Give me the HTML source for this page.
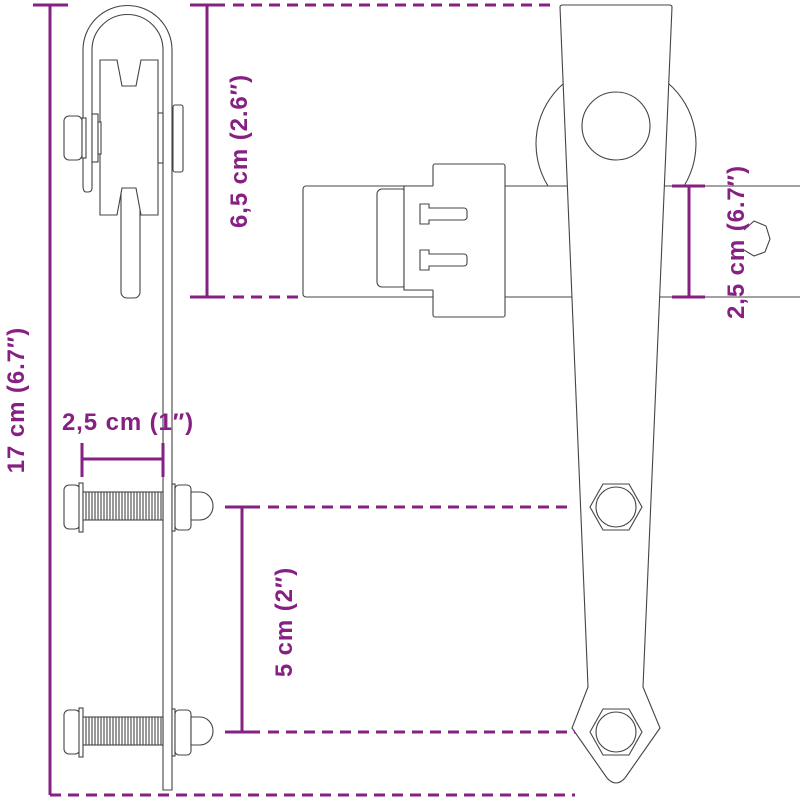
<!DOCTYPE html>
<html><head><meta charset="utf-8"><style>
html,body{margin:0;padding:0;background:#fff;width:800px;height:800px;overflow:hidden}
svg{display:block}
.l{fill:#fff;stroke:#444;stroke-width:1.1}
.n{fill:none;stroke:#444;stroke-width:1.1}
.p{stroke:#862082;stroke-width:3;fill:none}
.d{stroke:#862082;stroke-width:3;fill:none;stroke-dasharray:11 7}
.t{fill:#862082;font-family:"Liberation Sans",sans-serif;font-weight:bold;font-size:24px;letter-spacing:0.9px}
</style></head><body>
<svg width="800" height="800" viewBox="0 0 800 800" xmlns="http://www.w3.org/2000/svg">
<!-- left side view -->
<path class="l" d="M83,185 V50 A44.5,44.5 0 0 1 172,50 V790 H163 V50 A35.5,35.5 0 0 0 92,50 V188 Q92,192 88,192 H86 Q83,192 83,185 Z"/>
<rect class="l" x="121" y="185" width="19" height="113" rx="6"/>
<path class="l" d="M100,60 H117 L122,86 H136 L141,60 H158 V215 H141 L136,188 H122 L117,215 H100 Z"/>
<rect class="l" x="64" y="116" width="18" height="44" rx="5"/>
<rect class="l" x="82" y="118" width="4" height="40"/>
<rect class="l" x="92" y="114" width="6" height="48"/>
<rect class="l" x="98" y="122" width="3" height="32"/>
<rect class="l" x="158" y="113" width="5" height="50"/>
<rect class="l" x="173" y="105" width="10" height="67" rx="2"/>
<g id="b1">
<rect class="l" x="64" y="485" width="16" height="44" rx="5"/>
<rect class="l" x="79" y="483" width="4" height="49"/>
<rect class="l" x="83" y="492" width="80" height="28"/>
<path class="n" d="M86,492 V520 M89,492 V520 M92,492 V520 M95,492 V520 M98,492 V520 M101,492 V520 M104,492 V520 M107,492 V520 M110,492 V520 M113,492 V520 M116,492 V520 M119,492 V520 M122,492 V520 M125,492 V520 M128,492 V520 M131,492 V520 M134,492 V520 M137,492 V520 M140,492 V520 M143,492 V520 M146,492 V520 M149,492 V520 M152,492 V520 M155,492 V520 M158,492 V520 M161,492 V520"/>
<rect class="l" x="172" y="484" width="3" height="47"/>
<rect class="l" x="175" y="485" width="16" height="45" rx="4"/>
<path class="l" d="M191,492 H200 A13,14 0 0 1 200,520 H191 Z"/>
</g>
<use href="#b1" transform="translate(0,225)"/>

<!-- right view -->
<path class="l" d="M548,186 A80,80 0 1 1 684,186 Z"/>
<rect class="l" x="303" y="186" width="500" height="111" rx="3"/>
<rect class="l" x="377" y="189" width="30" height="98" rx="5"/>
<rect class="l" x="404" y="186" width="40" height="104"/>
<rect class="l" x="433" y="164" width="72" height="153" rx="2"/>
<rect x="404" y="186" width="30" height="104" style="stroke:none;fill:#fff"/>
<path class="n" d="M404,186 V290 M404,186 H433 M404,290 H433 M505,186 H548 M505,297 H560"/>
<path class="l" d="M420,204 h9 v4 h35 a3,3 0 0 1 3,3 v6 a3,3 0 0 1 -3,3 h-35 v4 h-9 z"/>
<path class="l" d="M420,250 h9 v4 h35 a3,3 0 0 1 3,3 v6 a3,3 0 0 1 -3,3 h-35 v4 h-9 z"/>
<path class="n" d="M744,230 l10,-9 l12,5 l4,13 l-5,13 l-11,4 l-10,-6" />
<path class="l" d="M560,7 Q560,5 563,5 H669 Q672,5 672,7 L643,687 L660,728 L625,778 Q616,788 607,778 L572,728 L588,687 Z"/>
<circle class="l" cx="616" cy="126" r="34"/>
<polygon class="l" points="603,484 629,484 642,507 629,530 603,530 590,507"/>
<circle class="l" cx="616" cy="507" r="20"/>
<polygon class="l" points="603,709 629,709 642,732 629,755 603,755 590,732"/>
<circle class="l" cx="616" cy="732" r="20"/>

<!-- dimension lines -->
<line class="p" x1="50" y1="5" x2="50" y2="795"/>
<line class="p" x1="33" y1="5" x2="68" y2="5"/>
<line class="d" x1="50" y1="795" x2="575" y2="795"/>
<text class="t" transform="translate(24,400) rotate(-90)" text-anchor="middle">17 cm (6.7″)</text>

<line class="p" x1="207" y1="5" x2="207" y2="297"/>
<line class="p" x1="190" y1="5" x2="225" y2="5"/>
<line class="p" x1="190" y1="297" x2="225" y2="297"/>
<line class="d" x1="233" y1="5" x2="552" y2="5"/>
<line class="d" x1="233" y1="297" x2="300" y2="297"/>
<text class="t" transform="translate(247,151) rotate(-90)" text-anchor="middle">6,5 cm (2.6″)</text>

<line class="p" x1="82" y1="443" x2="82" y2="477"/>
<line class="p" x1="163" y1="443" x2="163" y2="477"/>
<line class="p" x1="82" y1="459" x2="163" y2="459"/>
<text class="t" x="128" y="430" text-anchor="middle">2,5 cm (1″)</text>

<line class="p" x1="242" y1="507" x2="242" y2="732"/>
<line class="p" x1="225" y1="507" x2="260" y2="507"/>
<line class="p" x1="225" y1="732" x2="260" y2="732"/>
<line class="d" x1="268" y1="507" x2="570" y2="507"/>
<line class="d" x1="268" y1="732" x2="575" y2="732"/>
<text class="t" transform="translate(292,622) rotate(-90)" text-anchor="middle">5 cm (2″)</text>

<line class="p" x1="689" y1="186" x2="689" y2="297"/>
<line class="p" x1="672" y1="186" x2="705" y2="186"/>
<line class="p" x1="672" y1="297" x2="705" y2="297"/>
<text class="t" transform="translate(744,242) rotate(-90)" text-anchor="middle">2,5 cm (6.7″)</text>
</svg>
</body></html>
